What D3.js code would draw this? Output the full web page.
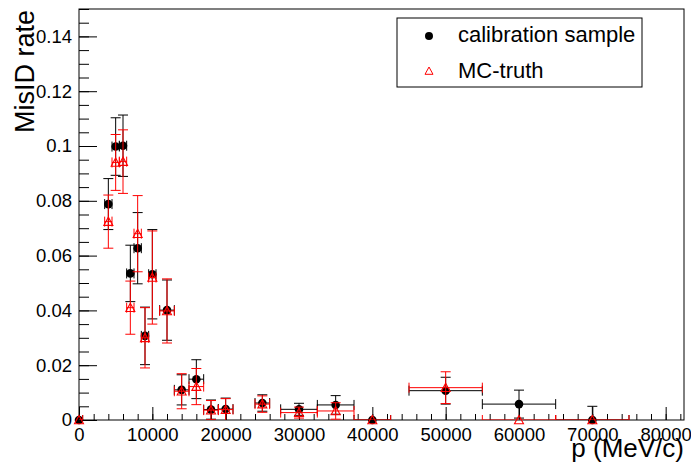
<!DOCTYPE html>
<html>
<head>
<meta charset="utf-8">
<script src="https://cdn.jsdelivr.net/npm/d3@7"></script>
<style>
  body { margin: 0; background: #fff; }
  svg { display: block; font-family: "Liberation Sans", Arial, sans-serif; }
  .axis text { font-size: 18.5px; fill: #000; }
  .axis line { stroke: #000; }
</style>
</head>
<body>
<div id="chart"></div>
<script>
// momentum bins (MeV/c) and half widths
const pVals = [0, 4000, 5000, 6000, 7000, 8000, 9000, 10000, 12000, 14000, 16000, 18000, 20000, 25000, 30000, 35000, 40000, 50000, 60000, 70000];
const pErr  = [500, 500, 500, 500, 500, 500, 500, 500, 1000, 1000, 1000, 1000, 1000, 1000, 2500, 2500, 2500, 5000, 5000, 5000];

// calibration sample
const calib    = [0, 0.0788, 0.0998, 0.1001, 0.0535, 0.0627, 0.0307, 0.0532, 0.0401, 0.0110, 0.0149, 0.0038, 0.0040, 0.0062, 0.0039, 0.0055, 0, 0.0107, 0.0058, 0];
const calibErr = [0, 0.0093, 0.0105, 0.0112, 0.0103, 0.0130, 0.0105, 0.0163, 0.0110, 0.0055, 0.0071, 0.0035, 0.0040, 0.0030, 0.0022, 0.0034, 0, 0.0049, 0.0051, 0.0050];

// MC-truth
const mc    = [0, 0.0724, 0.0940, 0.0943, 0.0410, 0.0680, 0.0300, 0.0520, 0.0398, 0.0105, 0.0122, 0.0036, 0.0038, 0.0058, 0.0027, 0.0033, 0, 0.0118, 0, 0];
const mcErr = [0, 0.0097, 0.0102, 0.0116, 0.0097, 0.0139, 0.0110, 0.0170, 0.0117, 0.0064, 0.0066, 0.0035, 0.0040, 0.0030, 0.0020, 0.0030, 0, 0.0058, 0, 0];

const xTicks = [0, 10000, 20000, 30000, 40000, 50000, 60000, 70000, 80000];
const yTicks = [0, 0.02, 0.04, 0.06, 0.08, 0.1, 0.12, 0.14];

const width = 691,
    height = 466,
    frameL = 79, frameR = 684, frameT = 9, frameB = 420;

const svg = d3.select('#chart').append('svg')
    .attr('width', width)
    .attr('height', height);

const x = d3.scaleLinear().domain([0, 82500]).range([frameL, frameR]);
const y = d3.scaleLinear().domain([0, 0.15]).range([frameB, frameT]);

svg.append('clipPath').attr('id', 'frame')
    .append('rect')
    .attr('x', frameL).attr('y', frameT)
    .attr('width', frameR - frameL).attr('height', frameB - frameT);

// minor ticks
svg.append('g')
    .attr('class', 'axis')
    .attr('transform', 'translate(0,' + frameB + ')')
    .call(d3.axisBottom(x).tickValues(d3.range(0, 82001, 2000)).tickSize(-6).tickFormat(''))
    .call(g => g.select('.domain').remove());

svg.append('g')
    .attr('class', 'axis')
    .attr('transform', 'translate(' + frameL + ',0)')
    .call(d3.axisLeft(y).tickValues(d3.range(0, 0.1501, 0.005)).tickSize(-10).tickFormat(''))
    .call(g => g.select('.domain').remove());

// major ticks + labels
svg.append('g')
    .attr('class', 'axis')
    .attr('transform', 'translate(0,' + frameB + ')')
    .call(d3.axisBottom(x).tickValues(xTicks).tickSize(-13).tickPadding(8).tickFormat(d3.format('d')))
    .call(g => g.select('.domain').remove());

svg.append('g')
    .attr('class', 'axis')
    .attr('transform', 'translate(' + frameL + ',0)')
    .call(d3.axisLeft(y).tickValues(yTicks).tickSize(-18).tickPadding(7).tickFormat(d => d === 0 ? '0' : d3.format('~g')(d)))
    .call(g => g.select('.domain').remove());

// frame
svg.append('rect')
    .attr('x', frameL).attr('y', frameT)
    .attr('width', frameR - frameL).attr('height', frameB - frameT)
    .attr('fill', 'none')
    .attr('stroke', '#000')
    .attr('stroke-width', 1);

// axis titles
svg.append('text')
    .attr('transform', 'translate(33.5,' + (frameT + 1) + ') rotate(-90)')
    .attr('text-anchor', 'end')
    .style('font-size', '27px')
    .text('MisID rate');

svg.append('text')
    .attr('x', frameR)
    .attr('y', 457)
    .attr('text-anchor', 'end')
    .style('font-size', '26px')
    .text('p (MeV/c)');

const cap = 5;

function drawSeries(vals, errs, color, marker) {
    const pts = pVals.map((p, i) => ({ p: p, v: vals[i], e: errs[i], pe: pErr[i] }));
    const g = svg.append('g').attr('clip-path', 'url(#frame)');
    const bars = g.selectAll('g.bar').data(pts).enter().append('g')
        .attr('stroke', color)
        .attr('stroke-width', 1)
        .attr('fill', 'none');

    // horizontal bar + end caps
    bars.append('line')
        .attr('x1', d => x(d.p - d.pe)).attr('x2', d => x(d.p + d.pe))
        .attr('y1', d => y(d.v)).attr('y2', d => y(d.v));
    bars.append('line')
        .attr('x1', d => x(d.p - d.pe)).attr('x2', d => x(d.p - d.pe))
        .attr('y1', d => y(d.v) - cap).attr('y2', d => y(d.v) + cap);
    bars.append('line')
        .attr('x1', d => x(d.p + d.pe)).attr('x2', d => x(d.p + d.pe))
        .attr('y1', d => y(d.v) - cap).attr('y2', d => y(d.v) + cap);

    // vertical bar + caps
    const withErr = bars.filter(d => d.e > 0);
    withErr.append('line')
        .attr('x1', d => x(d.p)).attr('x2', d => x(d.p))
        .attr('y1', d => y(d.v - d.e)).attr('y2', d => y(d.v + d.e));
    withErr.append('line')
        .attr('x1', d => x(d.p) - cap).attr('x2', d => x(d.p) + cap)
        .attr('y1', d => y(d.v + d.e)).attr('y2', d => y(d.v + d.e));
    withErr.filter(d => d.v - d.e > 0).append('line')
        .attr('x1', d => x(d.p) - cap).attr('x2', d => x(d.p) + cap)
        .attr('y1', d => y(d.v - d.e)).attr('y2', d => y(d.v - d.e));

    const m = svg.append('g').selectAll('path').data(pts).enter().append('path')
        .attr('transform', d => 'translate(' + x(d.p) + ',' + y(d.v) + ')');
    if (marker === 'circle') {
        m.attr('d', d3.symbol(d3.symbolCircle, 58)).attr('fill', color);
    } else {
        m.attr('d', 'M0,-4.5L4.5,3.8L-4.5,3.8Z')
            .attr('fill', 'none').attr('stroke', color).attr('stroke-width', 1.1);
    }
}

drawSeries(calib, calibErr, '#000', 'circle');
drawSeries(mc, mcErr, '#ff0000', 'triangle');

// legend
const leg = svg.append('g');
leg.append('rect')
    .attr('x', 397).attr('y', 18)
    .attr('width', 245).attr('height', 69)
    .attr('fill', '#fff').attr('stroke', '#000').attr('stroke-width', 1);
leg.append('path')
    .attr('d', d3.symbol(d3.symbolCircle, 50))
    .attr('transform', 'translate(429,36)')
    .attr('fill', '#000');
leg.append('path')
    .attr('d', 'M0,-4L4,3.3L-4,3.3Z')
    .attr('transform', 'translate(429,71)')
    .attr('fill', 'none').attr('stroke', '#ff0000').attr('stroke-width', 1);
leg.append('text').attr('x', 458).attr('y', 42.3).style('font-size', '22px').text('calibration sample');
leg.append('text').attr('x', 458).attr('y', 78.3).style('font-size', '22px').text('MC-truth');
</script>
</body>
</html>
